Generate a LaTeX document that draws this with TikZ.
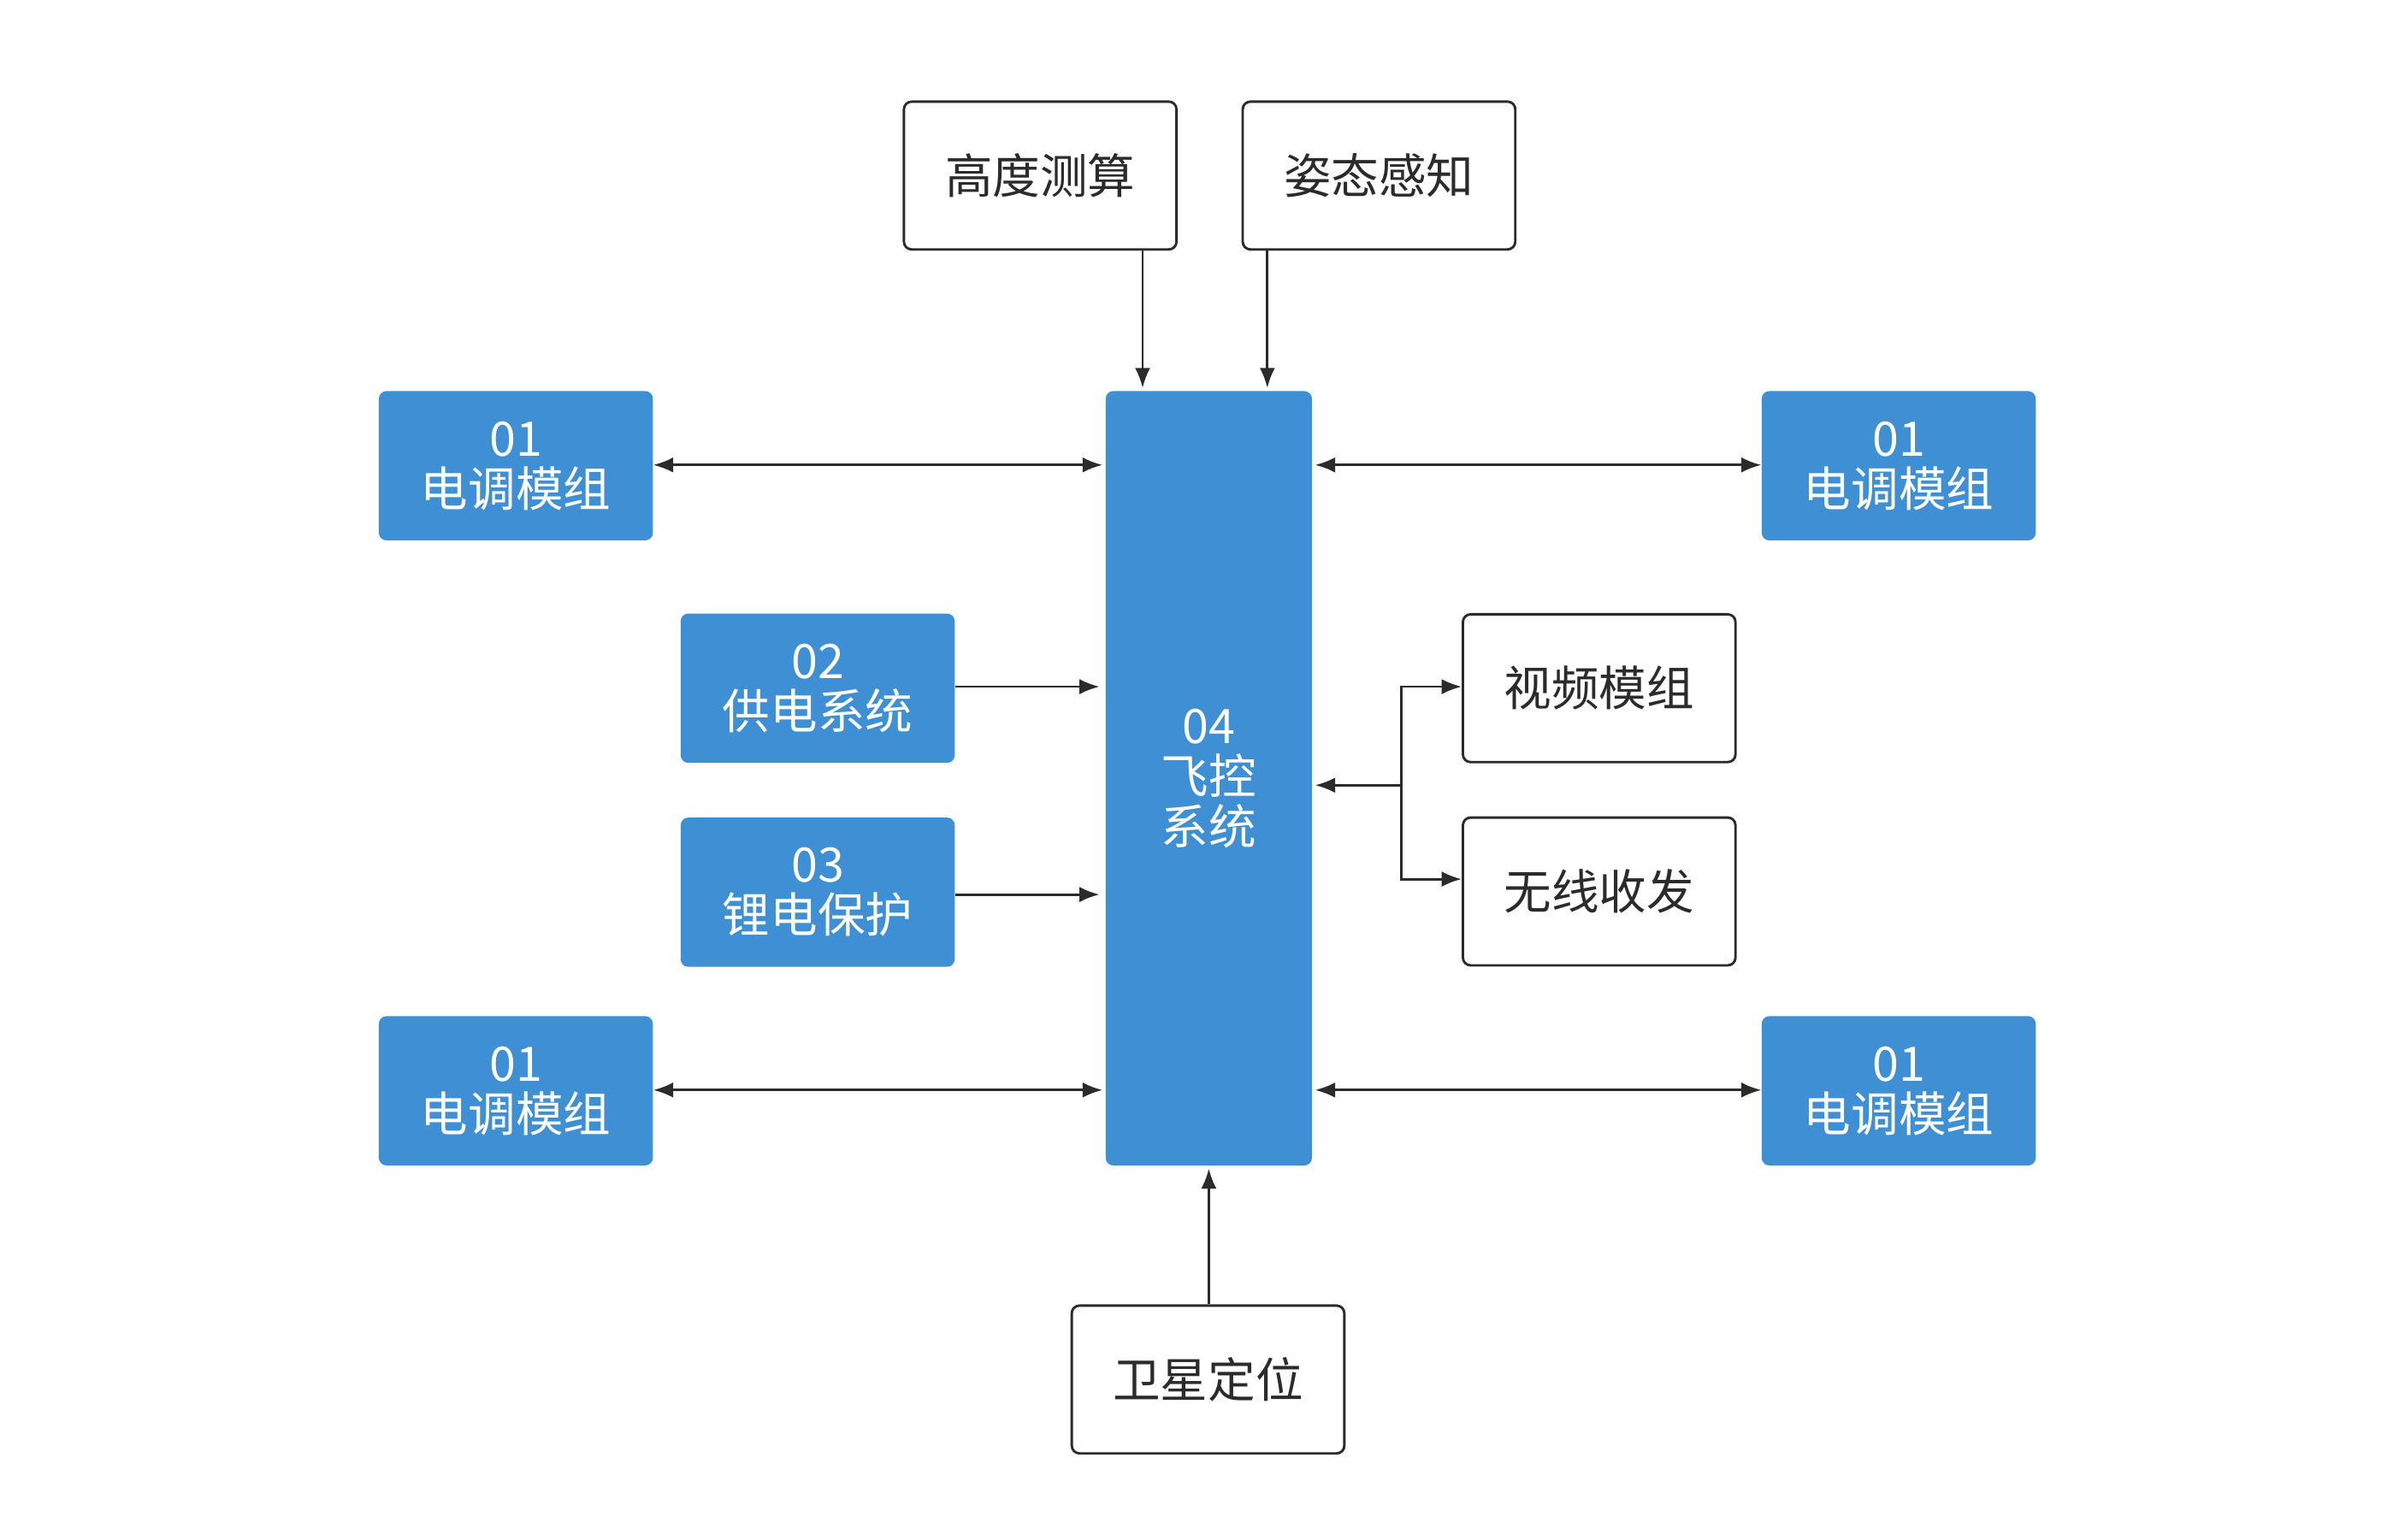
\documentclass[tikz,border=0pt]{standalone}
\usepackage{fontspec}
\setmainfont{Noto Sans CJK SC}
\usetikzlibrary{arrows.meta}
\definecolor{bl}{HTML}{3E8FD3}
\definecolor{ln}{HTML}{2B2B2B}
\begin{document}
\begin{tikzpicture}[x=1bp,y=-1bp,
 wb/.style={draw=ln,line width=1.6bp,rounded corners=5bp,fill=white,minimum width=177bp,minimum height=96bp,font=\fontsize{31}{34}\selectfont,text=ln,inner sep=0},
 bb/.style={fill=bl,rounded corners=5bp,minimum width=178bp,minimum height=97bp,font=\fontsize{31}{33}\selectfont,text=white,align=center,inner sep=0},
 ar/.style={draw=ln,line width=1.6bp,-{Latex[length=13bp,width=10bp]}},
 da/.style={draw=ln,line width=1.6bp,{Latex[length=13bp,width=10bp]}-{Latex[length=13bp,width=10bp]}}]
\useasboundingbox (0,0) rectangle (1554,1000);
\node[wb] (h) at (675.5,114) {高度测算};
\node[wb] (z) at (895.5,114) {姿态感知};
\node[bb,minimum width=134bp,minimum height=503bp] (c) at (785,505.5) {04\\飞控\\系统};
\node[bb] (tl) at (335,302.5) {01\\电调模组};
\node[bb] (tr) at (1233,302.5) {01\\电调模组};
\node[bb] (bl) at (335,708.5) {01\\电调模组};
\node[bb] (br) at (1233,708.5) {01\\电调模组};
\node[bb] (p2) at (531,447) {02\\供电系统};
\node[bb] (p3) at (531,579.5) {03\\锂电保护};
\node[wb] (v) at (1038.5,447) {视频模组};
\node[wb] (w) at (1038.5,579) {无线收发};
\node[wb] (s) at (784.5,896) {卫星定位};
\draw[ar] (h.south -| 742,0) -- (742,252);
\draw[ar] (z.south -| 823,0) -- (823,252);
\draw[da] (tl.east |- 0,302) -- (716,302);
\draw[da] (bl.east |- 0,708) -- (716,708);
\draw[da] (854,302) -- (tr.west |- 0,302);
\draw[da] (854,708) -- (br.west |- 0,708);
\draw[ar] (p2.east |- 0,446) -- (714,446);
\draw[ar] (p3.east |- 0,581) -- (714,581);
\coordinate (j) at (910,510);
\draw[ar] (j) -- (854,510);
\draw[ar] (910,446) |- (v.west |- 0,571) ;
\draw[ar] (910,571) |- (v.west |- 0,446);
\draw[ar] (s.north -| 785,0) -- (785,759);
\end{tikzpicture}
\end{document}
